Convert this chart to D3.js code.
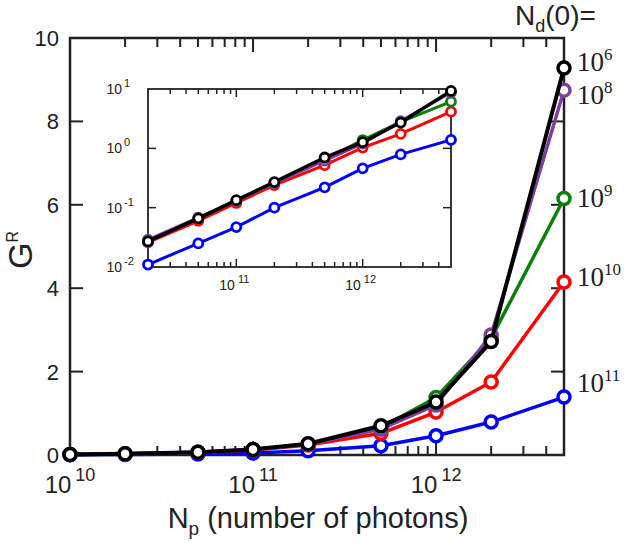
<!DOCTYPE html>
<html><head><meta charset="utf-8">
<script src="https://cdn.jsdelivr.net/npm/d3@7"></script>
<style>body{margin:0;background:#fff}svg{display:block}</style>
</head><body>
<script>
const photons = [1e10, 2e10, 5e10, 1e11, 2e11, 5e11, 1e12, 2e12, 5e12];
const seriesNames = ["1e11", "1e10", "1e9", "1e8", "1e6"];
const seriesLabels = [["10","11"],["10","10"],["10","9"],["10","8"],["10","6"]];
const seriesColors = ["#0000ff", "#ff0000", "#0b7f0b", "#7b3f9c", "#000000"];
const gBlue   = [0.005, 0.011, 0.025, 0.047, 0.10, 0.22, 0.46, 0.79, 1.39];
const gRed    = [0.010, 0.026, 0.060, 0.12, 0.24, 0.52, 1.03, 1.75, 4.15];
const gGreen  = [0.011, 0.027, 0.066, 0.13, 0.26, 0.65, 1.38, 2.80, 6.15];
const gPurple = [0.012, 0.029, 0.068, 0.13, 0.26, 0.62, 1.20, 2.88, 8.75];
const gBlack  = [0.012, 0.027, 0.066, 0.134, 0.27, 0.70, 1.27, 2.72, 9.28];
const seriesValues = [gBlue, gRed, gGreen, gPurple, gBlack];
const mainYTicks = [0, 2, 4, 6, 8, 10];
const mainXTicks = [1e10, 1e11, 1e12];
const insetXTicks = [1e11, 1e12];
const insetYTicks = [0.01, 0.1, 1, 10];

const W = 625, H = 543;
const svg = d3.select("body").append("svg").attr("width", W).attr("height", H);
const sans = "Liberation Sans, Arial, Helvetica, sans-serif";
const serif = "Liberation Serif, Times New Roman, serif";
const axisCol = "#222";

// main scales
const M = {l: 70, r: 564, t: 38, b: 455};
const x = d3.scaleLog().domain([1e10, 5e12]).range([M.l, M.r]);
const y = d3.scaleLinear().domain([0, 10]).range([M.b, M.t]);

function minorTicks(dom) {
  const out = [];
  for (let e = 10; e <= 12; e++) for (let k = 1; k <= 9; k++) {
    const v = k * Math.pow(10, e);
    if (v >= dom[0] * 0.999 && v <= dom[1] * 1.001) out.push(v);
  }
  return out;
}

const main = svg.append("g");
// ticks
const mt = minorTicks(x.domain());
mt.forEach(v => {
  const major = mainXTicks.includes(v);
  const len = major ? 14 : 9;
  const px = x(v);
  if (px <= M.l + 0.5 || px >= M.r - 0.5) return;
  main.append("line").attr("x1", px).attr("x2", px).attr("y1", M.b).attr("y2", M.b - len).attr("stroke", axisCol).attr("stroke-width", 2);
  main.append("line").attr("x1", px).attr("x2", px).attr("y1", M.t).attr("y2", M.t + len).attr("stroke", axisCol).attr("stroke-width", 2);
});
mainYTicks.forEach(v => {
  const py = y(v);
  if (v === 0 || v === 10) return;
  main.append("line").attr("x1", M.l).attr("x2", M.l + 13).attr("y1", py).attr("y2", py).attr("stroke", axisCol).attr("stroke-width", 2);
  main.append("line").attr("x1", M.r).attr("x2", M.r - 13).attr("y1", py).attr("y2", py).attr("stroke", axisCol).attr("stroke-width", 2);
});
main.append("rect").attr("x", M.l).attr("y", M.t).attr("width", M.r - M.l).attr("height", M.b - M.t)
  .attr("fill", "none").attr("stroke", axisCol).attr("stroke-width", 2.5);

// y tick labels
mainYTicks.forEach(v => {
  main.append("text").attr("x", M.l - 11).attr("y", y(v) + 8).attr("text-anchor", "end")
    .attr("font-family", sans).attr("font-size", 22).attr("fill", "#222").text(v);
});
// x tick labels
mainXTicks.forEach(v => {
  const t = main.append("text").attr("x", x(v)).attr("y", 493).attr("text-anchor", "middle")
    .attr("font-family", sans).attr("font-size", 24).attr("fill", "#222");
  t.append("tspan").text("10");
  t.append("tspan").attr("dx", 4).attr("dy", -12).attr("font-size", 18).text(String(Math.round(Math.log10(v))));
});
// axis titles
const xt = main.append("text").attr("x", 318).attr("y", 528).attr("text-anchor", "middle")
  .attr("font-family", sans).attr("font-size", 29).attr("fill", "#222");
xt.append("tspan").text("N");
xt.append("tspan").attr("font-size", 19).attr("dy", 7).text("p");
xt.append("tspan").attr("dy", -7).text(" (number of photons)");

const yt = main.append("text").attr("transform", "translate(32,250) rotate(-90)").attr("text-anchor", "middle")
  .attr("font-family", sans).attr("font-size", 34).attr("fill", "#222");
yt.append("tspan").text("G");
yt.append("tspan").attr("font-size", 16).attr("dy", -14).text("R");

// N_d(0)=
const nd = svg.append("text").attr("x", 515).attr("y", 25).attr("font-family", sans).attr("font-size", 28).attr("fill", "#222");
nd.append("tspan").text("N");
nd.append("tspan").attr("font-size", 18).attr("dy", 7).text("d");
nd.append("tspan").attr("dy", -7).text("(0)=");

// main series
const line = d3.line().x(d => x(d[0])).y(d => y(d[1]));
seriesValues.forEach((vals, i) => {
  const pts = photons.map((p, j) => [p, vals[j]]);
  const g = main.append("g");
  g.append("path").attr("d", line(pts)).attr("fill", "none").attr("stroke", seriesColors[i])
    .attr("stroke-width", i === 4 ? 4 : 3.5).attr("stroke-linejoin", "round");
  g.selectAll("circle").data(pts).join("circle").attr("cx", d => x(d[0])).attr("cy", d => y(d[1]))
    .attr("r", 6).attr("fill", "#fff").attr("stroke", seriesColors[i]).attr("stroke-width", 3.5);
});

// right-side labels (offsets in px from each series' last point)
const labelOffsets = [-14, -5, -1, 5, -6];
seriesValues.forEach((vals, i) => {
  const t = svg.append("text").attr("x", 577).attr("y", y(vals[vals.length - 1]) + labelOffsets[i] + 9)
    .attr("font-family", serif).attr("font-size", 27).attr("fill", "#222");
  t.append("tspan").text(seriesLabels[i][0]);
  t.append("tspan").attr("font-size", 17).attr("dy", -11).text(seriesLabels[i][1]);
});

// inset
const I = {l: 148, r: 451, t: 89, b: 267};
const xi = d3.scaleLog().domain([2e10, 5e12]).range([I.l, I.r]);
const yi = d3.scaleLog().domain([0.01, 10]).range([I.b, I.t]);
const ins = svg.append("g");
ins.append("rect").attr("x", I.l).attr("y", I.t).attr("width", I.r - I.l).attr("height", I.b - I.t).attr("fill", "#fff");
minorTicks(xi.domain()).forEach(v => {
  const px = xi(v);
  if (px <= I.l + 0.5 || px >= I.r - 0.5) return;
  const len = insetXTicks.includes(v) ? 8 : 5;
  ins.append("line").attr("x1", px).attr("x2", px).attr("y1", I.b).attr("y2", I.b - len).attr("stroke", axisCol).attr("stroke-width", 1.5);
  ins.append("line").attr("x1", px).attr("x2", px).attr("y1", I.t).attr("y2", I.t + len).attr("stroke", axisCol).attr("stroke-width", 1.5);
});
insetYTicks.forEach(v => {
  const py = yi(v);
  if (v === 0.01 || v === 10) return;
  ins.append("line").attr("x1", I.l).attr("x2", I.l + 8).attr("y1", py).attr("y2", py).attr("stroke", axisCol).attr("stroke-width", 1.5);
  ins.append("line").attr("x1", I.r).attr("x2", I.r - 8).attr("y1", py).attr("y2", py).attr("stroke", axisCol).attr("stroke-width", 1.5);
});
ins.append("rect").attr("x", I.l).attr("y", I.t).attr("width", I.r - I.l).attr("height", I.b - I.t)
  .attr("fill", "none").attr("stroke", axisCol).attr("stroke-width", 1.8);
insetYTicks.forEach(v => {
  const t = ins.append("text").attr("x", I.l - 26).attr("y", yi(v) + 5).attr("text-anchor", "end")
    .attr("font-family", sans).attr("font-size", 14).attr("fill", "#222");
  t.append("tspan").text("10");
  const e = Math.round(Math.log10(v));
  ins.append("text").attr("x", I.l - 24).attr("y", yi(v) - 2).attr("text-anchor", "start")
    .attr("font-family", sans).attr("font-size", 11).attr("fill", "#222").text(e < 0 ? "-" + (-e) : String(e));
});
insetXTicks.forEach(v => {
  const t = ins.append("text").attr("x", xi(v) - 2).attr("y", 290).attr("text-anchor", "middle")
    .attr("font-family", sans).attr("font-size", 14).attr("fill", "#222");
  t.append("tspan").text("10");
  t.append("tspan").attr("dx", 3).attr("dy", -7).attr("font-size", 11).text(String(Math.round(Math.log10(v))));
});
const linei = d3.line().x(d => xi(d[0])).y(d => yi(d[1]));
seriesValues.forEach((vals, i) => {
  const pts = photons.map((p, j) => [p, vals[j]]).filter(d => d[0] >= 2e10);
  const g = ins.append("g");
  g.append("path").attr("d", linei(pts)).attr("fill", "none").attr("stroke", seriesColors[i])
    .attr("stroke-width", i === 4 ? 3.4 : 3).attr("stroke-linejoin", "round");
  g.selectAll("circle").data(pts).join("circle").attr("cx", d => xi(d[0])).attr("cy", d => yi(d[1]))
    .attr("r", 4.5).attr("fill", "#fff").attr("stroke", seriesColors[i]).attr("stroke-width", 2.8);
});
</script>
</body></html>
